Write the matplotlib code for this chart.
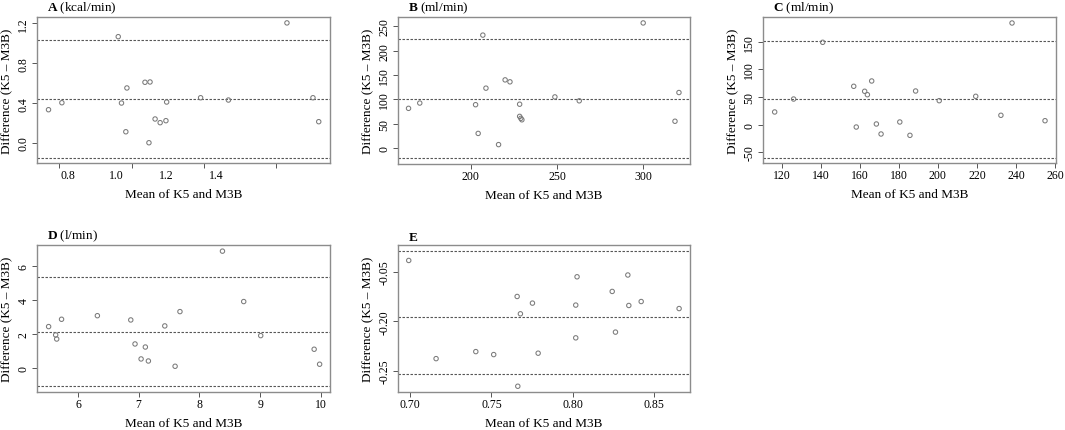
import matplotlib
matplotlib.use("Agg")
from matplotlib import pyplot as plt

plt.rcParams['font.family'] = ['Liberation Serif', 'DejaVu Serif']
plt.rcParams['mathtext.fontset'] = 'custom'
plt.rcParams['mathtext.rm'] = 'Liberation Serif'
plt.rcParams['mathtext.bf'] = 'Liberation Serif:bold'

# panel A - energy expenditure (kcal/min)
a_x = [0.770, 0.807, 0.963, 0.972, 0.987, 0.984, 1.037, 1.051, 1.048,
       1.065, 1.079, 1.095, 1.097, 1.191, 1.268, 1.430, 1.502, 1.518]
a_y = [0.334, 0.404, 1.066, 0.401, 0.552, 0.113, 0.609, 0.612, 0.003,
       0.241, 0.204, 0.224, 0.411, 0.454, 0.431, 1.204, 0.454, 0.214]
a_lines = [-0.153, 0.441, 1.029]

# panel B - ml/min
b_x = [164.1, 170.6, 202.9, 204.4, 207.1, 208.9, 216.2, 220.0, 222.8,
       228.4, 228.4, 229.1, 229.7, 248.8, 262.9, 299.9, 318.3, 320.6]
b_y = [81.5, 92.4, 89, 30, 232, 123, 7, 140, 136,
       90, 65, 61, 58, 105, 97, 257, 55, 114]
b_lines = [-21, 101, 223]

# panel C - ml/min
c_x = [116.4, 126.1, 141.0, 156.9, 158.2, 162.5, 163.9, 166.1, 168.5,
       170.9, 180.5, 185.7, 188.6, 200.7, 219.4, 232.3, 238.0, 254.9]
c_y = [23, 46.4, 148.9, 69.4, -4.2, 60.4, 54.2, 79, 1.3,
       -16.8, 4.9, -19.2, 60.9, 43.4, 51.3, 17, 183.8, 7.2]
c_lines = [-60.2, 45.9, 152]

# panel D - l/min
d_x = [5.517, 5.633, 5.65, 5.73, 6.32, 6.87, 6.94, 7.04, 7.11,
       7.16, 7.43, 7.60, 7.68, 8.38, 8.73, 9.01, 9.89, 9.98]
d_y = [2.45, 1.96, 1.72, 2.88, 3.09, 2.84, 1.43, 0.55, 1.25,
       0.43, 2.49, 0.12, 3.33, 6.88, 3.92, 1.92, 1.12, 0.24]
d_lines = [-1.06, 2.14, 5.35]

# panel E
e_x = [0.6992, 0.716, 0.7404, 0.7514, 0.7658, 0.7662, 0.7678, 0.7752, 0.7787,
       0.8018, 0.8018, 0.8026, 0.8242, 0.8262, 0.8338, 0.8344, 0.8420, 0.8653]
e_y = [-0.1385, -0.2377, -0.2306, -0.2336, -0.1749, -0.2656, -0.1924, -0.1816, -0.2322,
       -0.1836, -0.2167, -0.1550, -0.1698, -0.2109, -0.1532, -0.1840, -0.1800, -0.1871]
e_lines = [-0.2534, -0.1957, -0.1289]

panels = [
    dict(letter="A", unit=" (kcal/min)", x=a_x, y=a_y, lines=a_lines,
         pos=[0.0347, 0.6195, 0.2751, 0.3387], xlim=(0.738, 1.549), ylim=(-0.2, 1.263),
         xticks=[0.8, 1.0, 1.2, 1.4], xlabel_pos=[0.824, 0.959, 1.097, 1.235],
         xlabels=["0.8", "1.0", "1.2", "1.4"],
         yticks=[0.0, 0.4, 0.8, 1.2], ylabels=["0.0", "0.4", "0.8", "1.2"]),
    dict(letter="B", unit=" (ml/min)", x=b_x, y=b_y, lines=b_lines,
         pos=[0.3737, 0.617, 0.2742, 0.341], xlim=(158, 327), ylim=(-33, 269),
         xticks=[200, 250, 300], xlabel_pos=None, xlabels=["200", "250", "300"],
         yticks=[0, 50, 100, 150, 200, 250],
         ylabels=["0", "50", "100", "150", "200", "250"]),
    dict(letter="C", unit=" (ml/min)", x=c_x, y=c_y, lines=c_lines,
         pos=[0.7164, 0.6195, 0.2751, 0.3387], xlim=(110.4, 260.5), ylim=(-69.2, 194.6),
         xticks=list(range(120, 261, 20)), xlabel_pos=None,
         xlabels=[str(v) for v in range(120, 261, 20)],
         yticks=[-50, 0, 50, 100, 150], ylabels=["-50", "0", "50", "100", "150"]),
    dict(letter="D", unit=" (l/min)", x=d_x, y=d_y, lines=d_lines,
         pos=[0.0347, 0.0882, 0.2751, 0.341], xlim=(5.325, 10.15), ylim=(-1.39, 7.24),
         xticks=[6, 7, 8, 9, 10], xlabel_pos=None, xlabels=["6", "7", "8", "9", "10"],
         yticks=[0, 2, 4, 6], ylabels=["0", "2", "4", "6"]),
    dict(letter="E", unit="", x=e_x, y=e_y, lines=e_lines,
         pos=[0.3737, 0.0882, 0.2742, 0.341], xlim=(0.6926, 0.872), ylim=(-0.2714, -0.1229),
         xticks=[0.70, 0.75, 0.80, 0.85], xlabel_pos=None,
         xlabels=["0.70", "0.75", "0.80", "0.85"],
         yticks=[-0.25, -0.20, -0.15], ylabels=["-0.25", "-0.20", "-0.05"]),
]

fig = plt.figure(figsize=(10.65, 4.31), dpi=100)

for p in panels:
    ax = fig.add_axes(p["pos"])
    for yv in p["lines"]:
        ax.axhline(yv, color="#555555", lw=0.8, ls=(0, (2.2, 1.4)), zorder=1)
    ax.scatter(p["x"], p["y"], s=10, facecolors="none", edgecolors="#7a7a7a",
               linewidths=0.75, zorder=2)
    ax.set_xlim(p["xlim"])
    ax.set_ylim(p["ylim"])

    if p["xlabel_pos"] is None:
        ax.set_xticks(p["xticks"])
        ax.set_xticklabels(p["xlabels"])
    else:
        # labels sit off the tick marks in the original figure
        ax.set_xticks(p["xticks"])
        ax.set_xticklabels([""] * len(p["xticks"]))
        ax.set_xticks(p["xlabel_pos"], minor=True)
        ax.set_xticklabels(p["xlabels"], minor=True)
        ax.tick_params(axis="x", which="minor", length=0, pad=4.5, labelsize=8.5)

    ax.set_yticks(p["yticks"])
    ax.set_yticklabels(p["ylabels"], rotation=90, va="center")
    ax.tick_params(axis="both", which="major", length=3.5, width=0.7,
                   color="#555555", labelsize=8.5, pad=2)
    ax.tick_params(axis="x", which="major", pad=1)

    for s in ax.spines.values():
        s.set_color("#8c8c8c")
        s.set_linewidth(1.0)

    ax.set_xlabel("Mean of K5 and M3B", fontsize=9.5, labelpad=5)
    ax.set_ylabel("Difference (K5 \u2013 M3B)", fontsize=9.5, labelpad=3)
    ax.text(0.034, 1.012, r"$\mathbf{" + p["letter"] + "}$" + p["unit"],
            transform=ax.transAxes, fontsize=9.5, va="bottom", ha="left")

fig.savefig("out.png", dpi=100)
